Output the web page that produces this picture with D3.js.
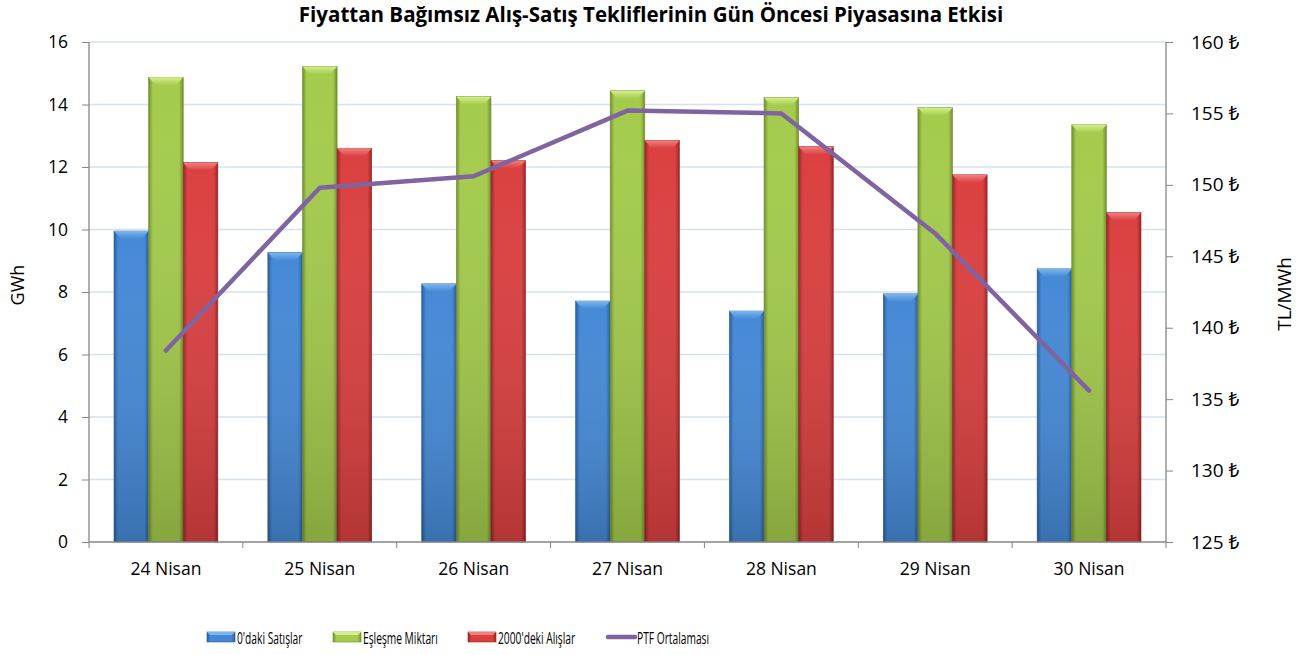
<!DOCTYPE html>
<html>
<head>
<meta charset="utf-8">
<script src="https://cdn.jsdelivr.net/npm/d3@7"></script>
<style>
	body { margin: 0; background: #fff; }
	svg text { font-family: "Open Sans", "Noto Sans", "DejaVu Sans", sans-serif; fill: #000; }
</style>
</head>
<body>
<div id="chart"></div>
<script>
	// categories and values
	var days = ['24 Nisan', '25 Nisan', '26 Nisan', '27 Nisan', '28 Nisan', '29 Nisan', '30 Nisan'];
	var satislar = [9.95, 9.26, 8.26, 7.71, 7.39, 7.94, 8.74];
	var eslesme = [14.87, 15.22, 14.25, 14.44, 14.22, 13.90, 13.35];
	var alislar = [12.14, 12.60, 12.21, 12.85, 12.65, 11.75, 10.54];
	var ptf = [138.4, 149.8, 150.6, 155.2, 155.0, 146.6, 135.6];
	var leftTicks = [0, 2, 4, 6, 8, 10, 12, 14, 16];
	var rightTicks = [125, 130, 135, 140, 145, 150, 155, 160];

	var series = [
		{key: 'sat', name: "0'daki Satışlar", values: satislar, dark: '#2a5c9c', mid: '#4589d6', light: '#7ab6f0'},
		{key: 'esl', name: 'Eşleşme Miktarı', values: eslesme, dark: '#6f8f2c', mid: '#a4cb4c', light: '#d4ef8a'},
		{key: 'alis', name: "2000'deki Alışlar", values: alislar, dark: '#962626', mid: '#db4040', light: '#f38080'}
	];

	var W = 1301, H = 655;
	var margin = {top: 42, right: 135, bottom: 113, left: 89};
	var width = W - margin.left - margin.right,
		height = H - margin.top - margin.bottom;

	var svg = d3.select('#chart').append('svg')
		.attr('width', W)
		.attr('height', H);

	var defs = svg.append('defs');
	series.forEach(function(s) {
		var g = defs.append('linearGradient').attr('id', 'grad-' + s.key)
			.attr('x1', 0).attr('x2', 1).attr('y1', 0).attr('y2', 0);
		g.append('stop').attr('offset', 0).attr('stop-color', s.dark);
		g.append('stop').attr('offset', 0.12).attr('stop-color', s.mid);
		g.append('stop').attr('offset', 0.5).attr('stop-color', s.mid);
		g.append('stop').attr('offset', 0.88).attr('stop-color', s.mid);
		g.append('stop').attr('offset', 1).attr('stop-color', s.dark);
		var v = defs.append('linearGradient').attr('id', 'vgrad-' + s.key)
			.attr('x1', 0).attr('x2', 0).attr('y1', 0).attr('y2', 1);
		v.append('stop').attr('offset', 0).attr('stop-color', '#fff').attr('stop-opacity', 0.0);
		v.append('stop').attr('offset', 1).attr('stop-color', '#000').attr('stop-opacity', 0.18);
		var t = defs.append('linearGradient').attr('id', 'top-' + s.key)
			.attr('x1', 0).attr('x2', 0).attr('y1', 0).attr('y2', 1);
		t.append('stop').attr('offset', 0).attr('stop-color', s.light);
		t.append('stop').attr('offset', 1).attr('stop-color', s.mid);
	});

	var cont = svg.append('g')
		.attr('transform', 'translate(' + margin.left + ',' + margin.top + ')');

	// scales
	var x0 = d3.scaleBand()
		.domain(days)
		.range([0, width])
		.paddingInner(0.325)
		.paddingOuter(0.1625);

	var x1 = d3.scaleBand()
		.domain(series.map(function(s) { return s.key; }))
		.range([0, x0.bandwidth()]);

	var y = d3.scaleLinear().domain([0, 16]).range([height, 0]);
	var y2 = d3.scaleLinear().domain([125, 160]).range([height, 0]);

	// gridlines
	cont.selectAll('line.grid')
		.data(leftTicks.slice(1)).enter()
		.append('line')
			.attr('class', 'grid')
			.attr('x1', 0).attr('x2', width)
			.attr('y1', function(d) { return y(d); })
			.attr('y2', function(d) { return y(d); })
			.attr('stroke', '#d6e1ef')
			.attr('stroke-width', 1.5);

	// bars
	var groups = cont.selectAll('g.day')
		.data(days).enter()
		.append('g')
			.attr('class', 'day')
			.attr('transform', function(d) { return 'translate(' + x0(d) + ',0)'; });

	series.forEach(function(s) {
		var bw = x1.bandwidth();
		var bars = groups.append('g').attr('class', 'bar-' + s.key);
		bars.append('rect')
			.attr('x', x1(s.key))
			.attr('y', function(d, i) { return y(s.values[i]); })
			.attr('width', bw)
			.attr('height', function(d, i) { return height - y(s.values[i]); })
			.attr('fill', 'url(#grad-' + s.key + ')')
			.attr('stroke', s.dark)
			.attr('stroke-width', 0.6);
		bars.append('rect')
			.attr('x', x1(s.key))
			.attr('y', function(d, i) { return y(s.values[i]); })
			.attr('width', bw)
			.attr('height', function(d, i) { return height - y(s.values[i]); })
			.attr('fill', 'url(#vgrad-' + s.key + ')');
		bars.append('path')
			.attr('d', function(d, i) {
				var bx = x1(s.key), by = y(s.values[i]);
				return 'M' + bx + ',' + by + 'L' + (bx + bw) + ',' + by +
					'L' + (bx + bw - 7) + ',' + (by + 8) + 'L' + (bx + 7) + ',' + (by + 8) + 'Z';
			})
			.attr('fill', 'url(#top-' + s.key + ')');
	});

	// PTF line
	var line = d3.line()
		.x(function(d, i) { return x0(days[i]) + x0.bandwidth() / 2; })
		.y(function(d) { return y2(d); });

	cont.append('path')
		.datum(ptf)
		.attr('d', line)
		.attr('fill', 'none')
		.attr('stroke', '#8064a2')
		.attr('stroke-width', 4.5)
		.attr('stroke-linejoin', 'round')
		.attr('stroke-linecap', 'round');

	// axes
	var axisColor = '#868686';

	var leftAxis = cont.append('g')
		.call(d3.axisLeft(y).tickValues(leftTicks).tickSize(7).tickPadding(14));
	var rightAxis = cont.append('g')
		.attr('transform', 'translate(' + width + ',0)')
		.call(d3.axisRight(y2).tickValues(rightTicks).tickSize(7).tickPadding(18)
			.tickFormat(function(d) { return d + ' ₺'; }));
	var bottomAxis = cont.append('g')
		.attr('transform', 'translate(0,' + height + ')')
		.call(d3.axisBottom(x0).tickSize(0).tickPadding(21));

	// category boundary ticks
	bottomAxis.selectAll('line.sep')
		.data(d3.range(days.length + 1)).enter()
		.append('line')
			.attr('class', 'sep')
			.attr('x1', function(d) { return d * x0.step(); })
			.attr('x2', function(d) { return d * x0.step(); })
			.attr('y1', 0).attr('y2', 6)
			.attr('stroke', axisColor);

	[leftAxis, rightAxis, bottomAxis].forEach(function(a) {
		a.select('.domain').attr('stroke', axisColor).attr('stroke-width', 1.3);
		a.selectAll('.tick line').attr('stroke', axisColor);
		a.selectAll('.tick text').attr('font-size', 17.5).attr('fill', '#000')
			.style('font-family', '"Open Sans", "Noto Sans", sans-serif');
	});
	rightAxis.selectAll('.tick text').attr('font-size', 19);
	leftAxis.select('.domain').attr('d', 'M0,' + height + 'V0');
	rightAxis.select('.domain').attr('d', 'M0,' + height + 'V0');
	bottomAxis.select('.domain').attr('d', 'M0,0H' + width);

	// titles
	svg.append('text')
		.attr('x', 651).attr('y', 22)
		.attr('text-anchor', 'middle')
		.attr('font-size', 20.5)
		.attr('font-weight', 'bold')
		.text('Fiyattan Bağımsız Alış-Satış Tekliflerinin Gün Öncesi Piyasasına Etkisi');

	svg.append('text')
		.attr('transform', 'translate(24,285) rotate(-90)')
		.attr('text-anchor', 'middle')
		.attr('font-size', 18)
		.text('GWh');

	svg.append('text')
		.attr('transform', 'translate(1291,294) rotate(-90)')
		.attr('text-anchor', 'middle')
		.attr('font-size', 19)
		.text('TL/MWh');

	// legend (text squeezed horizontally to mimic the narrow original face)
	var legendX = [207, 333, 468, 606];
	var legend = svg.append('g').attr('class', 'legend');
	series.forEach(function(s, i) {
		var lg = legend.append('g').attr('transform', 'translate(' + legendX[i] + ',632)');
		lg.append('rect')
			.attr('width', 28).attr('height', 10)
			.attr('fill', 'url(#grad-' + s.key + ')')
			.attr('stroke', s.dark).attr('stroke-width', 0.6);
		lg.append('path')
			.attr('d', 'M0,0H28L25,3H3Z')
			.attr('fill', s.light);
		lg.append('text')
			.attr('transform', 'translate(30,11.5) scale(0.66,1)')
			.attr('font-size', 15.5)
			.text(s.name);
	});
	var lp = legend.append('g').attr('transform', 'translate(' + legendX[3] + ',632)');
	lp.append('line')
		.attr('x1', 2).attr('x2', 29).attr('y1', 5).attr('y2', 5)
		.attr('stroke', '#8064a2').attr('stroke-width', 4.5)
		.attr('stroke-linecap', 'round');
	lp.append('text')
		.attr('transform', 'translate(31,11.5) scale(0.66,1)')
		.attr('font-size', 15.5)
		.text('PTF Ortalaması');
</script>
</body>
</html>
